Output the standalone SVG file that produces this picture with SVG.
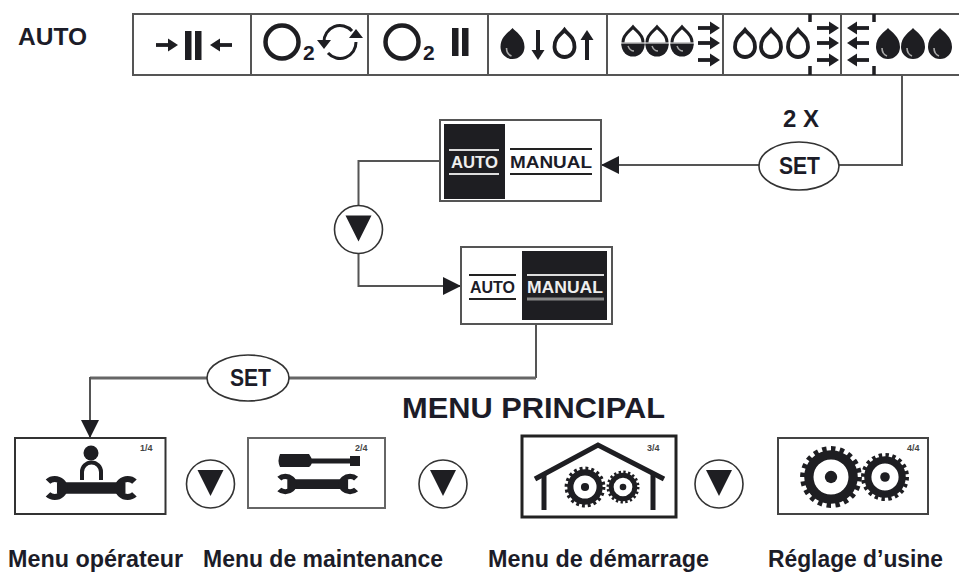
<svg xmlns="http://www.w3.org/2000/svg" width="959" height="573" viewBox="0 0 959 573">
<style>
text{font-family:"Liberation Sans",Arial,sans-serif;font-weight:700;fill:#1c1c28}
.c{text-anchor:middle}
.wire{fill:none;stroke:#555;stroke-width:2}
.wire.heavy{stroke:#666;stroke-width:3}
.cell{fill:#fff;stroke:#555;stroke-width:2}
.pill{fill:#fff;stroke:#333;stroke-width:1.6}
.bar{fill:#1e1e22}
.rule{stroke:#222;stroke-width:2}
.ruleW{stroke:#ddd;stroke-width:2}
.page{font-size:9px;fill:#444}
.lab{font-size:23px}
.mode{font-size:16px}
.sub{font-size:21px}
</style>
<defs>
<marker id="head" markerUnits="userSpaceOnUse" markerWidth="18" markerHeight="18" refX="18" refY="9" orient="auto"><path d="M0 0L18 9L0 18Z" fill="#1e1e22"/></marker>
<path id="drop" d="M0-16C3-12 12-8 12 3A12 12 0 0 1-12 3C-12-8-3-12 0-16Z" fill="#1e1e22"/>
<g id="dropFull"><use href="#drop"/><path d="M-6 4Q-6 10-1 12" fill="none" stroke="#aaa" stroke-width="1.6"/></g>
<path id="dropOpen" d="M0-14C3-10 10-7 10 3A10 10 0 0 1-10 3C-10-7-3-10 0-14Z" fill="#fff" stroke="#1e1e22" stroke-width="3.8"/>
<g id="dropHalf"><path d="M0-14C3-10 10-7 10 1V3H-10V1C-10-7-3-10 0-14Z" fill="#fff" stroke="#1e1e22" stroke-width="3"/><path d="M-11.500 2H11.500V4A11.500 11.500 0 0 1-11.500 4Z" fill="#1e1e22"/><path d="M-5 5Q-3 10 1 10" fill="none" stroke="#aaa" stroke-width="1.500"/></g>
<g id="arr"><path d="M-11 0H4" stroke="#1e1e22" stroke-width="3.800"/><path d="M1-6.500L11 0L1 6.500Z" fill="#1e1e22"/></g>
<g id="tri"><circle r="24" fill="#fff" stroke="#333" stroke-width="1.600"/><path d="M-13-14H13L0 12Z" fill="#1e1e22"/></g>
<g id="wrench" fill="none" stroke="#1e1e22"><path d="M14 13H78" stroke-width="11.500"/><path d="M5.600 6.600A9 9 0 1 1 5.600 19.400M86.400 6.600A9 9 0 1 0 86.400 19.400" stroke-width="6"/></g>
<g id="gear"><circle r="27.500" fill="none" stroke="#1e1e22" stroke-width="5" pathLength="40" stroke-dasharray="1 1"/><circle r="21.500" fill="#fff" stroke="#1e1e22" stroke-width="9"/><circle r="6" fill="#1e1e22"/></g>
</defs>

<g id="connectors">
<path class="wire" d="M902 75V165H839"/>
<path class="wire" d="M759 165H601" marker-end="url(#head)"/>
<path class="wire" d="M440 161H358.500V205"/>
<path class="wire" d="M358.500 253V286H461" marker-end="url(#head)"/>
<path class="wire" d="M536 324V378"/>
<path class="wire heavy" d="M536 378H90"/>
<path class="wire" d="M90 377V438" marker-end="url(#head)"/>
</g>

<text id="auto-label" x="18" y="45" font-size="23" textLength="69" lengthAdjust="spacingAndGlyphs">AUTO</text>

<g id="status-bar">
<rect class="cell" x="133" y="14" width="827" height="61"/>
<path d="M251 14V75M368 14V75M488 14V75M607 14V75M723 14V75M841 14V75" stroke="#555" stroke-width="2"/>
<path d="M810 14V22M810 66V75M874 14V22M874 66V75" stroke="#1e1e22" stroke-width="3.500"/>
<g id="cell-1"><use href="#arr" x="167" y="45"/><rect class="bar" x="185" y="31" width="6.500" height="29"/><rect class="bar" x="195" y="31" width="6.500" height="29"/><use href="#arr" transform="translate(221 45) rotate(180)"/></g>
<g id="cell-2"><circle cx="282" cy="42" r="16.500" fill="none" stroke="#1e1e22" stroke-width="4.500"/><text x="303" y="60" class="sub">2</text>
<path d="M324 42A16 16 0 0 1 352 31M356 42A16 16 0 0 1 328 53" fill="none" stroke="#1e1e22" stroke-width="3"/><path d="M317 40L331 40L324 49Z M349 38L363 38L356 29Z" fill="#1e1e22"/></g>
<g id="cell-3"><circle cx="402" cy="42" r="16.500" fill="none" stroke="#1e1e22" stroke-width="4.500"/><text x="423" y="60" class="sub">2</text><rect class="bar" x="452" y="28" width="6.500" height="28"/><rect class="bar" x="462" y="28" width="6.500" height="28"/></g>
<g id="cell-4"><use href="#dropFull" x="512.500" y="44"/><path d="M538 30V52" stroke="#1e1e22" stroke-width="4"/><path d="M531.500 50L544.500 50L538 60Z" fill="#1e1e22"/><use href="#dropOpen" x="564.500" y="44"/><path d="M587 38V60" stroke="#1e1e22" stroke-width="4"/><path d="M580.500 40L593.500 40L587 30Z" fill="#1e1e22"/></g>
<g id="cell-5"><use href="#dropHalf" x="633" y="41"/><use href="#dropHalf" x="657" y="41"/><use href="#dropHalf" x="682" y="41"/><path d="M620 43H694" stroke="#fff" stroke-width="1"/><use href="#arr" x="709" y="28"/><use href="#arr" x="709" y="43"/><use href="#arr" x="709" y="60"/></g>
<g id="cell-6"><use href="#dropOpen" x="745" y="44"/><use href="#dropOpen" x="771" y="44"/><use href="#dropOpen" x="798" y="44"/><use href="#arr" x="828" y="28"/><use href="#arr" x="828" y="43"/><use href="#arr" x="828" y="60"/></g>
<g id="cell-7"><use href="#arr" transform="translate(858 28) rotate(180)"/><use href="#arr" transform="translate(858 43) rotate(180)"/><use href="#arr" transform="translate(858 60) rotate(180)"/><use href="#dropFull" x="888" y="44"/><use href="#dropFull" x="913" y="44"/><use href="#dropFull" x="940" y="44"/></g>
</g>

<g id="set-1"><text class="c" x="801" y="127" font-size="24" textLength="36" lengthAdjust="spacingAndGlyphs">2 X</text><ellipse class="pill" cx="799" cy="166" rx="40" ry="24"/><text class="c" x="799.500" y="174" font-size="24" textLength="41" lengthAdjust="spacingAndGlyphs">SET</text></g>

<g id="mode-auto">
<rect class="cell" x="440" y="120" width="161" height="81"/>
<rect class="bar" x="444" y="124" width="61" height="75"/>
<path class="ruleW" d="M449 150H499M449 174H499"/>
<text class="c mode" x="474.500" y="168" style="fill:#eee" textLength="47" lengthAdjust="spacingAndGlyphs">AUTO</text>
<path class="rule" d="M510 149H592M510 174H592"/>
<text class="c mode" x="551" y="168" textLength="82" lengthAdjust="spacingAndGlyphs">MANUAL</text>
</g>

<g id="down-1"><use href="#tri" x="358.500" y="229.500"/></g>

<g id="mode-manual">
<rect class="cell" x="461" y="247" width="151" height="77"/>
<rect class="bar" x="522" y="251" width="85" height="69"/>
<path class="rule" d="M469 275H516M469 299H516"/>
<text class="c mode" x="492.500" y="293" textLength="45" lengthAdjust="spacingAndGlyphs">AUTO</text>
<path class="ruleW" d="M527 275H604"/><path d="M527 299H604" stroke="#888" stroke-width="3"/>
<text class="c mode" x="565" y="293" style="fill:#eee" textLength="76" lengthAdjust="spacingAndGlyphs">MANUAL</text>
</g>

<g id="set-2"><ellipse class="pill" cx="248" cy="378" rx="41" ry="23"/><text class="c" x="250.500" y="386" font-size="24" textLength="41" lengthAdjust="spacingAndGlyphs">SET</text></g>

<text id="menu-title" x="402" y="418" font-size="30" textLength="263" lengthAdjust="spacingAndGlyphs">MENU PRINCIPAL</text>

<g id="menu-operator">
<rect x="15" y="438" width="150.500" height="76" fill="#fff" stroke="#333" stroke-width="2"/>
<text class="page" x="140" y="451">1/4</text>
<circle cx="91" cy="453" r="7.500" fill="#1e1e22"/>
<path d="M82 480V472A9.500 9.500 0 0 1 101 472V480" fill="none" stroke="#1e1e22" stroke-width="4"/>
<use href="#wrench" transform="translate(42 475) scale(1.07 1)"/>
<text class="lab" x="8" y="567" textLength="175" lengthAdjust="spacingAndGlyphs">Menu opérateur</text>
</g>

<g id="down-2"><use href="#tri" x="210.500" y="484"/></g>

<g id="menu-maintenance">
<rect x="248" y="438" width="137" height="70" fill="#fff" stroke="#666" stroke-width="2"/>
<text class="page" x="355" y="451">2/4</text>
<path d="M280 454H309Q312 458 312 461Q312 465 309 467H280Q277 461 280 454Z" fill="#1e1e22"/>
<path d="M310 461H352" stroke="#1e1e22" stroke-width="5"/>
<rect class="bar" x="350" y="456" width="10" height="10"/>
<use href="#wrench" transform="translate(274 473) scale(.95 .85)"/>
<text class="lab" x="203" y="567" textLength="240" lengthAdjust="spacingAndGlyphs">Menu de maintenance</text>
</g>

<g id="down-3"><use href="#tri" x="443" y="484"/></g>

<g id="menu-startup">
<rect x="522" y="436" width="154" height="81" fill="#fff" stroke="#222" stroke-width="3"/>
<text class="page" x="647" y="451">3/4</text>
<path d="M535 479L598 445L664 479" fill="none" stroke="#1e1e22" stroke-width="5"/>
<path d="M544 473V510M653 473V510" stroke="#1e1e22" stroke-width="5"/>
<use href="#gear" transform="translate(585 487) scale(.68)"/>
<use href="#gear" transform="translate(623 487) scale(.55)"/>
<text class="lab" x="488" y="567" textLength="221" lengthAdjust="spacingAndGlyphs">Menu de démarrage</text>
</g>

<g id="down-4"><use href="#tri" x="719" y="484"/></g>

<g id="menu-factory">
<rect x="778" y="438" width="150" height="76" fill="#fff" stroke="#444" stroke-width="2"/>
<text class="page" x="907" y="451">4/4</text>
<use href="#gear" transform="translate(831 477) scale(1.03)"/>
<use href="#gear" transform="translate(885 477) scale(.8)"/>
<text class="lab" x="768" y="567" textLength="175" lengthAdjust="spacingAndGlyphs">Réglage d’usine</text>
</g>
</svg>
